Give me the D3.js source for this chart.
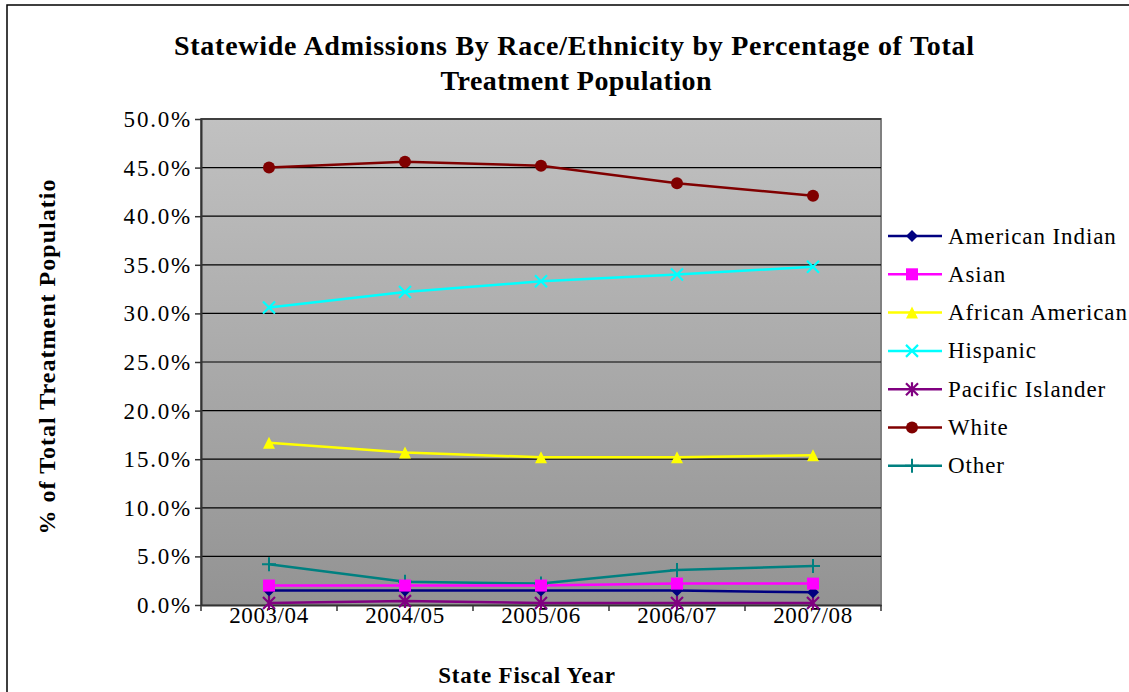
<!DOCTYPE html>
<html><head><meta charset="utf-8">
<script src="https://cdn.jsdelivr.net/npm/d3@7"></script>
<style>body{margin:0;background:#fff}svg{display:block}svg text{font-family:"Liberation Serif","Times New Roman",serif !important}</style>
</head><body>
<svg id="c" width="1129" height="692" font-family="Liberation Serif"></svg>
<script>
const categories = ["2003/04","2004/05","2005/06","2006/07","2007/08"];
const seriesNames = ["American Indian","Asian","African American","Hispanic","Pacific Islander","White","Other"];
const americanIndian = [1.5,1.5,1.5,1.5,1.3];
const asian = [2.0,2.0,2.0,2.2,2.2];
const africanAmerican = [16.7,15.7,15.2,15.2,15.4];
const hispanic = [30.6,32.2,33.3,34.0,34.8];
const pacificIslander = [0.2,0.4,0.2,0.2,0.2];
const white = [45.0,45.6,45.2,43.4,42.1];
const other = [4.2,2.4,2.2,3.6,4.0];
const yTicks = [0,5,10,15,20,25,30,35,40,45,50];

const seriesValues = [americanIndian,asian,africanAmerican,hispanic,pacificIslander,white,other];
const colors = ["#000080","#ff00ff","#ffff00","#00ffff","#800080","#800000","#008080"];
const markers = ["diamond","square","triangle","x","star","circle","plus"];
const FF = "Liberation Serif";

const svg = d3.select("#c");
const L=201,R=881,T=119,B=605;
const x = d3.scaleBand().domain(categories).range([L,R]);
const y = d3.scaleLinear().domain([0,50]).range([B,T]);

svg.append("rect").attr("x",7).attr("y",5).attr("width",1130).attr("height",700)
  .attr("fill","none").attr("stroke","#000").attr("stroke-width",1.5);

const defs = svg.append("defs");
const g = defs.append("linearGradient").attr("id","bg").attr("x1",0).attr("y1",0).attr("x2",0).attr("y2",1);
g.append("stop").attr("offset","0%").attr("stop-color","#c1c1c1");
g.append("stop").attr("offset","100%").attr("stop-color","#939393");
svg.append("rect").attr("x",L).attr("y",T).attr("width",R-L).attr("height",B-T).attr("fill","url(#bg)")
  .attr("stroke","#808080").attr("stroke-width",2);

svg.append("g").selectAll("line").data(yTicks.filter(d=>d>0)).join("line")
  .attr("x1",L).attr("x2",R).attr("y1",d=>y(d)).attr("y2",d=>y(d)).attr("stroke","#000").attr("stroke-width",1.2);

const ya = svg.append("g").attr("transform",`translate(${L},0)`)
  .call(d3.axisLeft(y).tickValues(yTicks).tickFormat(d=>d.toFixed(1)+"%").tickSize(6).tickSizeOuter(0));
ya.attr("font-family",FF);
ya.select(".domain").attr("stroke","#333").attr("stroke-width",2);
ya.selectAll(".tick line").attr("stroke","#333").attr("stroke-width",1.5);
ya.selectAll("text").attr("font-size",23).attr("font-family",FF).attr("fill","#000").attr("x",-9).attr("dy","0.33em").attr("letter-spacing",1.8);

const xa = svg.append("g").attr("transform",`translate(0,${B})`)
  .call(d3.axisBottom(x).tickSize(0));
xa.attr("font-family",FF);
xa.select(".domain").attr("stroke","#333").attr("stroke-width",2);
xa.selectAll("text").attr("font-size",23).attr("font-family",FF).attr("fill","#000").attr("y",18).attr("dy","0").attr("letter-spacing",0.6);
const bounds = [L, ...categories.map(c=>x(c)+x.bandwidth())];
svg.append("g").selectAll("line").data(bounds).join("line")
  .attr("x1",d=>d).attr("x2",d=>d).attr("y1",B).attr("y2",B+6).attr("stroke","#333").attr("stroke-width",1.5);

function marker(sel, type, color){
  const s=6;
  if(type==="diamond") sel.append("path").attr("d",`M0,${-s}L${s},0L0,${s}L${-s},0Z`).attr("fill",color);
  else if(type==="square") sel.append("rect").attr("x",-s).attr("y",-s).attr("width",2*s).attr("height",2*s).attr("fill",color);
  else if(type==="triangle") sel.append("path").attr("d",`M0,${-s}L${s},${s}L${-s},${s}Z`).attr("fill",color);
  else if(type==="circle") sel.append("circle").attr("r",s).attr("fill",color);
  else if(type==="x") sel.append("path").attr("d",`M${-s},${-s}L${s},${s}M${-s},${s}L${s},${-s}`).attr("stroke",color).attr("stroke-width",2.2).attr("fill","none");
  else if(type==="star") sel.append("path").attr("d",`M${-s},${-s}L${s},${s}M${-s},${s}L${s},${-s}M0,${-s-1}L0,${s+1}`).attr("stroke",color).attr("stroke-width",2.2).attr("fill","none");
  else if(type==="plus") sel.append("path").attr("d",`M${-s-1},0L${s+1},0M0,${-s-1}L0,${s+1}`).attr("stroke",color).attr("stroke-width",2).attr("fill","none");
}

const line = d3.line().x((d,i)=>x(categories[i])+x.bandwidth()/2).y(d=>y(d));
const drawOrder=[6,5,4,3,2,0,1];
drawOrder.forEach(k=>{
  svg.append("path").datum(seriesValues[k]).attr("d",line).attr("fill","none")
    .attr("stroke",colors[k]).attr("stroke-width",2.5);
});
drawOrder.forEach(k=>{
  seriesValues[k].forEach((v,i)=>{
    const m = svg.append("g").attr("transform",`translate(${x(categories[i])+x.bandwidth()/2},${y(v)})`);
    marker(m, markers[k], colors[k]);
  });
});

seriesNames.forEach((n,k)=>{
  const ly = 236 + k*38.3;
  svg.append("line").attr("x1",888).attr("x2",942).attr("y1",ly).attr("y2",ly).attr("stroke",colors[k]).attr("stroke-width",2.5);
  const m = svg.append("g").attr("transform",`translate(912,${ly})`);
  marker(m, markers[k], colors[k]);
  svg.append("text").attr("x",948).attr("y",ly).attr("dy","0.33em").attr("font-family",FF).attr("font-size",23).attr("letter-spacing",0.9).text(n);
});

svg.append("text").attr("x",574).attr("y",55).attr("text-anchor","middle").attr("font-family",FF).attr("font-size",28).attr("font-weight","bold")
  .attr("textLength",800).attr("lengthAdjust","spacing")
  .text("Statewide Admissions By Race/Ethnicity by Percentage of Total");
svg.append("text").attr("x",576).attr("y",90).attr("text-anchor","middle").attr("font-family",FF).attr("font-size",28).attr("font-weight","bold")
  .attr("textLength",271).attr("lengthAdjust","spacing")
  .text("Treatment Population");
svg.append("text").attr("x",527).attr("y",683).attr("text-anchor","middle").attr("font-family",FF).attr("font-size",23).attr("font-weight","bold")
  .attr("letter-spacing",0.8).text("State Fiscal Year");
svg.append("text").attr("transform","translate(55,357) rotate(-90)").attr("text-anchor","middle").attr("font-family",FF).attr("font-size",24).attr("font-weight","bold")
  .attr("textLength",355).attr("lengthAdjust","spacing").text("% of Total Treatment Populatio");
</script>
</body></html>
